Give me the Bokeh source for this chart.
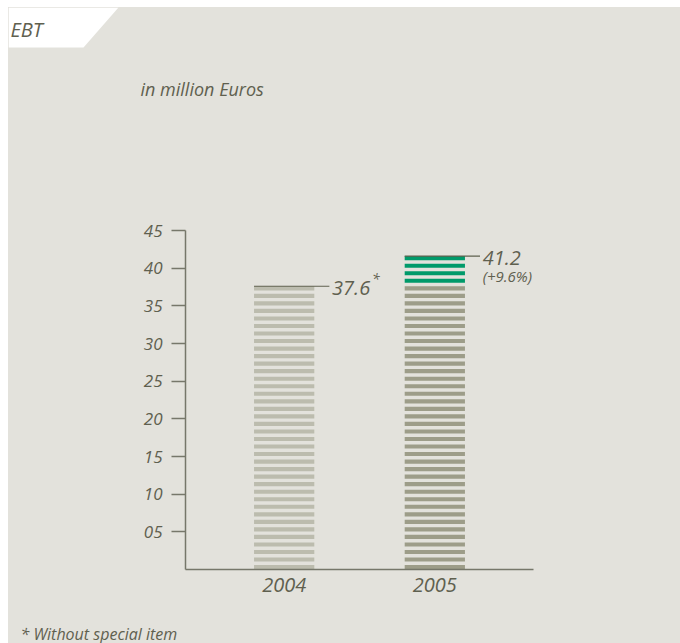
from bokeh.plotting import figure
from bokeh.models import FixedTicker, Label, Spacer, Range1d
from bokeh.layouts import column, row
from bokeh.core.properties import value
from bokeh.embed import file_html
from bokeh.resources import INLINE

# ---- data ----
years = ["2004", "2005"]
ebt = [37.6, 41.2]
value_labels = ["37.6", "41.2"]
growth_label = "(+9.6%)"
y_ticks = [5, 10, 15, 20, 25, 30, 35, 40, 45]
y_tick_labels = ["05", "10", "15", "20", "25", "30", "35", "40", "45"]

# ---- style ----
BG = "#e3e2dc"
TXT = "#5f604f"
AXIS = "#76776a"
LIGHT = "#bcbcae"
DARK = "#9d9d89"
GREEN = "#009a6a"
FONT = "Open Sans"


def bare(w, h):
    f = figure(width=w, height=h, output_backend="svg", toolbar_location=None,
               x_range=Range1d(0, w), y_range=Range1d(h, 0),
               x_axis_location=None, y_axis_location=None, min_border=0)
    f.background_fill_color = BG
    f.border_fill_color = BG
    f.outline_line_color = None
    f.grid.grid_line_color = None
    f.frame_align = False
    return f


# ---- header: white title tab, title, unit line ----
hdr = bare(672, 103)
hdr.patch(x=[0, 110, 75, 0], y=[0, 0, 40, 40], fill_color="white", line_color=None)
hdr.text(x=[2], y=[22], text=["EBT"], text_font=value(FONT), text_font_style="italic",
         text_font_size="20px", text_color=TXT, text_baseline="alphabetic")
hdr.text(x=[132], y=[81], text=["in million Euros"], text_font=value(FONT),
         text_font_style="italic", text_font_size="18px", text_color=TXT,
         text_baseline="alphabetic")

# ---- footer: footnote ----
ftr = bare(672, 28)
ftr.text(x=[12], y=[18], text=["* Without special item"], text_font=value(FONT),
         text_font_style="italic", text_font_size="16px", text_color=TXT,
         text_baseline="alphabetic")

# ---- main chart ----
xs = [i + 1 for i in range(len(years))]
half = 0.2

p = figure(width=672, height=505, output_backend="svg", toolbar_location=None,
           x_range=(0.345, 2.655), y_range=(0, 45),
           min_border_left=177, min_border_right=147,
           min_border_top=120, min_border_bottom=46)
p.background_fill_color = BG
p.border_fill_color = BG
p.outline_line_color = None
p.grid.grid_line_color = None
p.frame_align = False

# striped bars
left, right, bottom, top, colors = [], [], [], [], []
for k, v in enumerate(ebt):
    prev = ebt[k - 1] if k > 0 else None
    for i in range(int(v) + 1):
        left.append(xs[k] - half)
        right.append(xs[k] + half)
        bottom.append(i + 0.05)
        top.append(i + 0.6)
        if k == 0:
            colors.append(LIGHT)
        else:
            colors.append(GREEN if i > prev else DARK)
p.quad(left=left, right=right, bottom=bottom, top=top,
       fill_color=colors, line_color=None)

# value marker lines and labels
for k, v in enumerate(ebt):
    ytop = int(v) + 0.6
    p.segment(x0=[xs[k] - half], x1=[xs[k] + half + 0.1], y0=[ytop], y1=[ytop],
              line_color=TXT, line_width=1.2)
    p.add_layout(Label(x=xs[k] + half + 0.118, y=ytop, text=value_labels[k],
                       text_font=FONT, text_font_style="italic", text_font_size="20px",
                       text_color=TXT, text_baseline="alphabetic", y_offset=-2))
p.add_layout(Label(x=xs[0] + half + 0.118, y=int(ebt[0]) + 0.6, text="*",
                   x_offset=40, y_offset=8,
                   text_font=FONT, text_font_style="italic", text_font_size="14px",
                   text_color=TXT, text_baseline="alphabetic"))
p.add_layout(Label(x=xs[1] + half + 0.118, y=int(ebt[1]) + 0.6, text=growth_label,
                   y_offset=-20,
                   text_font=FONT, text_font_style="italic", text_font_size="15px",
                   text_color=TXT, text_baseline="alphabetic"))

# axes
p.yaxis.ticker = FixedTicker(ticks=y_ticks)
p.yaxis.major_label_overrides = dict(zip(y_ticks, y_tick_labels))
p.yaxis.major_tick_out = 14
p.yaxis.major_tick_in = 0
p.yaxis.minor_tick_line_color = None
p.yaxis.major_label_standoff = 9
p.xaxis.ticker = FixedTicker(ticks=xs)
p.xaxis.major_label_overrides = dict(zip(xs, years))
p.xaxis.minor_tick_line_color = None
p.xaxis.major_tick_out = 0
p.xaxis.major_label_standoff = 8
for ax in (p.xaxis, p.yaxis):
    ax.axis_line_color = AXIS
    ax.axis_line_width = 1.5
    ax.major_tick_line_width = 1.5
    ax.major_label_text_font = FONT
    ax.major_label_text_font_style = "italic"
    ax.major_label_text_color = TXT
p.yaxis.major_tick_line_color = AXIS
p.xaxis.major_tick_line_color = None
p.yaxis.major_label_text_font_size = "17px"
p.xaxis.major_label_text_font_size = "20px"

inner = column(hdr, p, ftr, spacing=0, styles={"background-color": BG})
layout = column(Spacer(height=7, width=680),
                row(Spacer(width=8, height=636), inner, spacing=0),
                spacing=0)

open("out.html", "w").write(file_html(layout, INLINE))
